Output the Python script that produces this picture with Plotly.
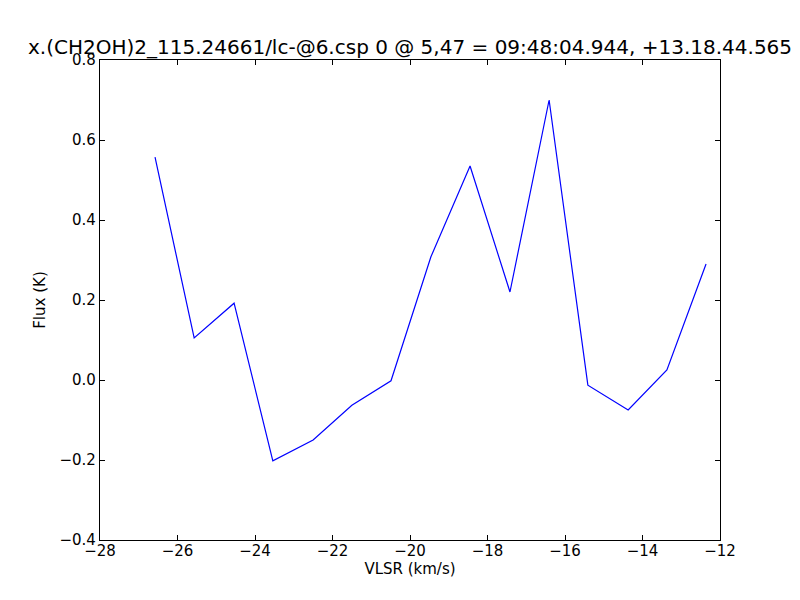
import plotly.graph_objects as go

vlsr = [-26.58, -25.57, -24.54, -23.54, -22.50, -21.50, -20.49, -19.46, -18.45, -17.42, -16.41, -15.41, -14.37, -13.37, -12.36]
flux = [0.557, 0.105, 0.192, -0.202, -0.150, -0.063, -0.002, 0.308, 0.535, 0.220, 0.700, -0.013, -0.075, 0.025, 0.290]

title_text = "x.(CH2OH)2_115.24661/lc-@6.csp 0 @ 5,47 = 09:48:04.944, +13.18.44.565"
FONT = "DejaVu Sans"

fig = go.Figure()
fig.add_trace(go.Scatter(x=vlsr, y=flux, mode="lines",
                         line=dict(color="#0000ff", width=1.2), showlegend=False))

axis_common = dict(
    showgrid=False, zeroline=False, showline=True, linecolor="black", linewidth=1.2,
    mirror="allticks", ticks="inside", ticklen=5, tickwidth=1, tickcolor="black",
    tickfont=dict(family=FONT, size=15, color="black"), automargin=False,
)

fig.update_layout(
    width=800, height=600,
    paper_bgcolor="white", plot_bgcolor="white",
    margin=dict(l=92, r=88, t=52, b=68),
    title=dict(text=title_text, x=402/800, xanchor="center", xref="container",
               y=1 - 39/600, yref="container", yanchor="middle", automargin=False,
               font=dict(family=FONT, size=20, color="black")),
    xaxis=dict(range=[-28, -12], tickvals=list(range(-28, -11, 2)),
               title=dict(text="VLSR (km/s)", font=dict(family=FONT, size=15, color="black"), standoff=4),
               ticklabelstandoff=-3, **axis_common),
    yaxis=dict(range=[-0.4, 0.8], tickvals=[-0.4, -0.2, 0.0, 0.2, 0.4, 0.6, 0.8], tickformat=".1f",
               title=dict(text="Flux (K)", font=dict(family=FONT, size=15, color="black"), standoff=10),
               **axis_common),
)

fig.write_html("out.html")
